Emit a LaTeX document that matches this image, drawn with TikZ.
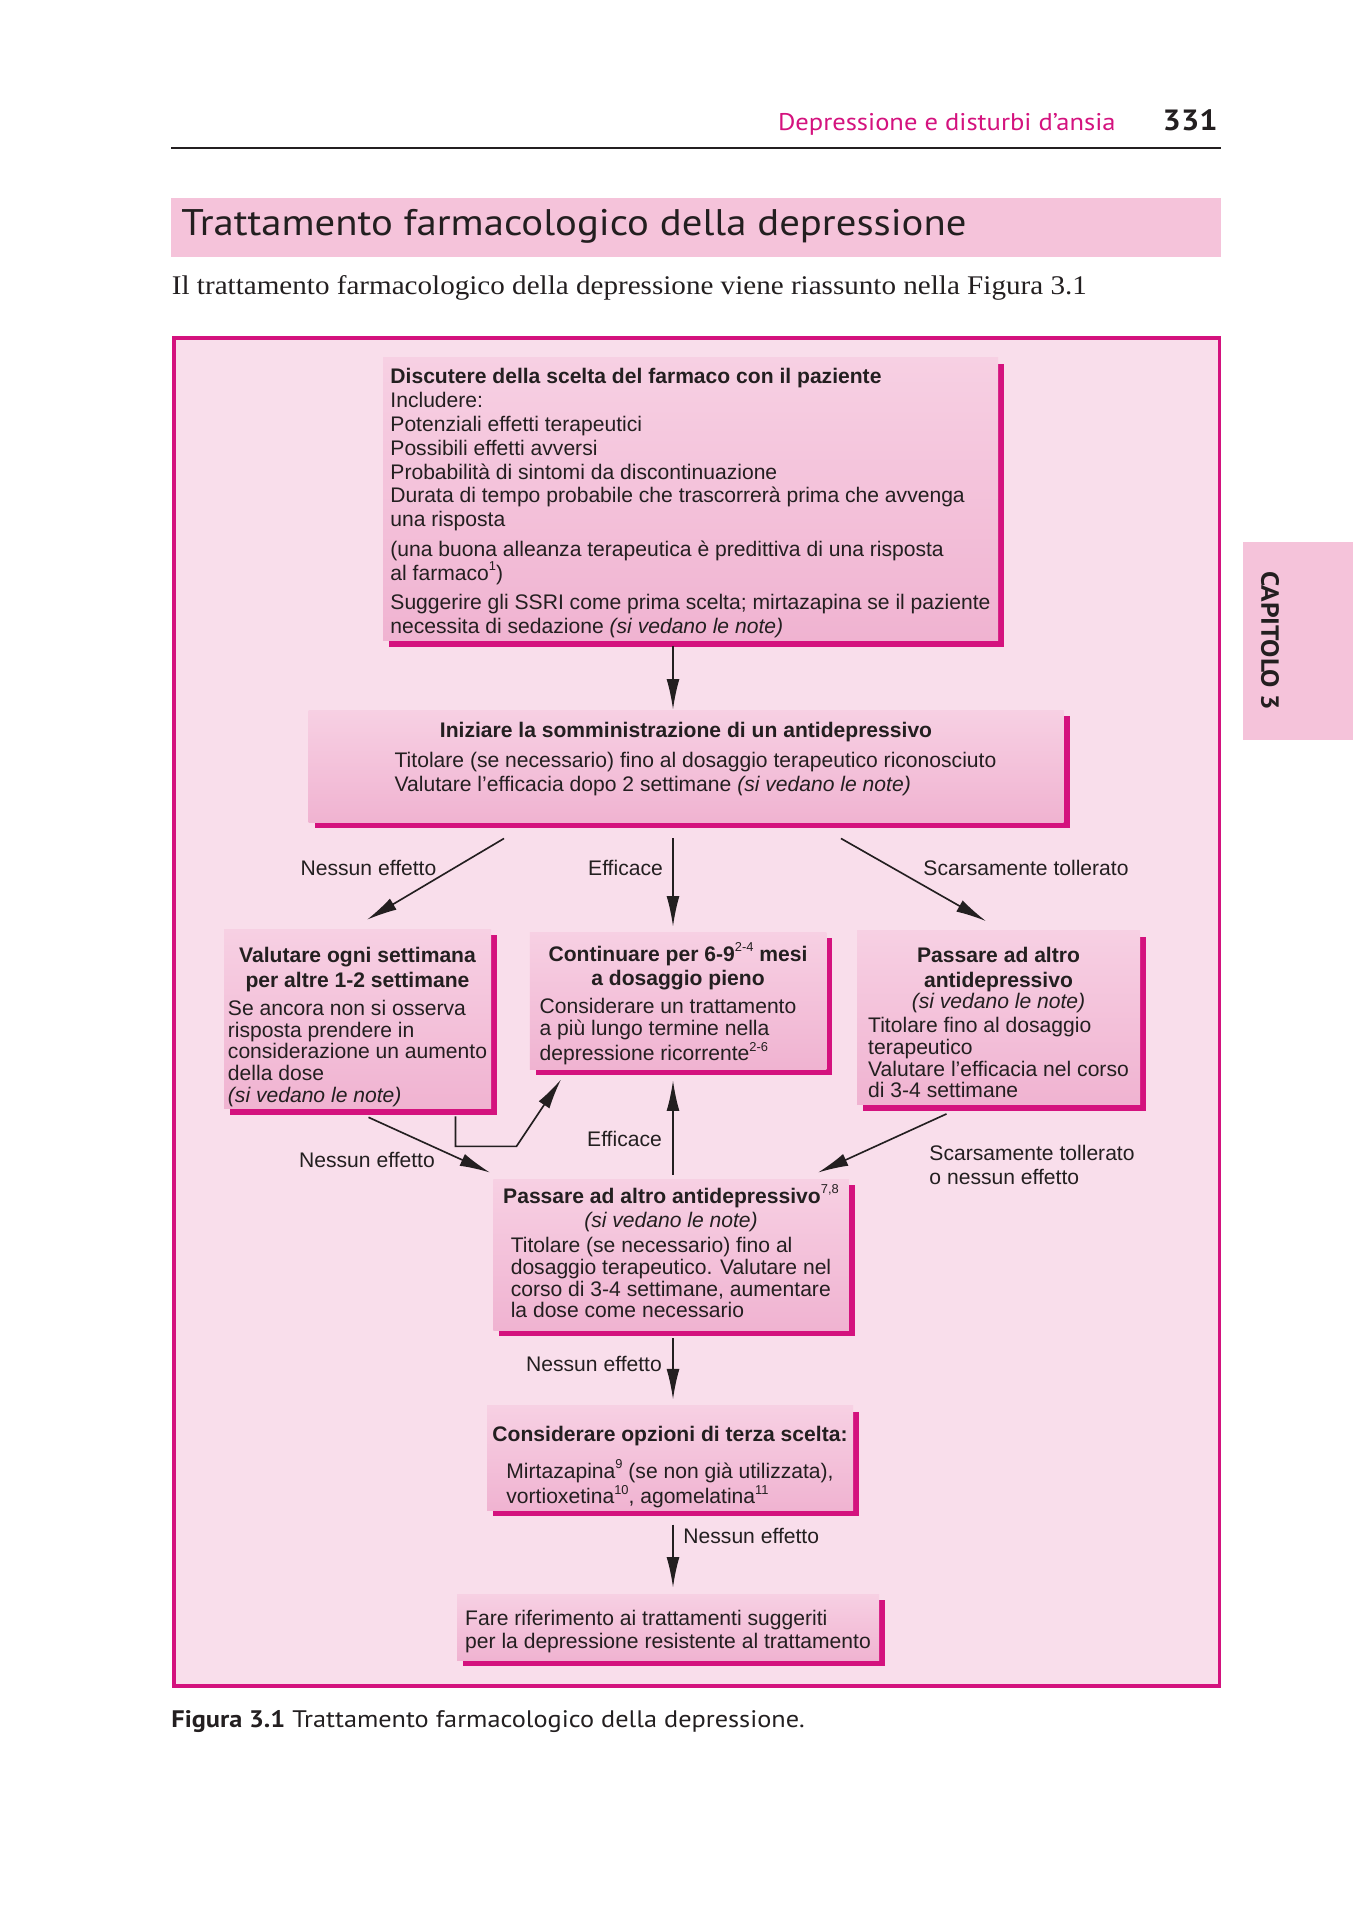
\documentclass[tikz,border=0pt]{standalone}
\usepackage{fontspec}
\setmainfont{Liberation Sans}
\newfontfamily\headfont[FakeStretch=1.1]{PT Sans}
\newfontfamily\introfont[FakeStretch=1.08]{Liberation Serif}
\usepackage{tikz}
\usetikzlibrary{arrows.meta,shadows}
\definecolor{Magenta}{HTML}{D4127E}
\definecolor{FramePink}{HTML}{F9DEEB}
\definecolor{BarPink}{HTML}{F5C3DA}
\definecolor{BoxTop}{HTML}{F7D0E3}
\definecolor{BoxBot}{HTML}{F0B3D1}
\definecolor{Ink}{HTML}{231F20}
\newlength\pxu
\setlength\pxu{0.015cm}
\newcommand\apice[1]{\raisebox{0.85ex}{\mdseries\upshape\fontsize{5.5}{6}\selectfont #1}}
\newcommand\corpo[1]{\begin{tabular}[t]{@{}l@{}}#1\end{tabular}}
\newcommand\alza[1]{\rule{0pt}{#1}}

\begin{document}
\begin{tikzpicture}[x=1\pxu, y=-1\pxu,
  every node/.style={text=Ink},
  pinkbox/.style={rectangle, top color=BoxTop, bottom color=BoxBot, align=left, inner sep=0pt,
    font=\fontsize{9}{10.2}\selectfont,
    drop shadow={shadow xshift=2.6pt, shadow yshift=-2.6pt, fill=Magenta, opacity=1}},
  smallbox/.style={pinkbox, align=center, font=\fontsize{9}{9.2}\selectfont},
  arr/.style={draw=Ink, line width=0.7pt, -{Latex[length=13pt,width=5.5pt]}},
  lab/.style={font=\fontsize{9}{10.2}\selectfont, inner sep=0pt}]
\useasboundingbox (0,0) rectangle (1353,1920);
\fill[white] (0,0) rectangle (1353,1920);

% --- page head ---
\node[anchor=base east, text=Magenta, font=\headfont\fontsize{10.3}{12}\selectfont, inner sep=0pt] (runhead) at (1116,131) {Depressione e disturbi d’ansia};
\node[anchor=base east, font=\headfont\bfseries\fontsize{12.5}{15}\selectfont, inner sep=0pt] (pagenum) at (1218,131) {331};
\draw[Ink, line width=0.6pt] (171,148) -- (1221,148);
\fill[BarPink] (171,198) rectangle (1221,257);
\node[anchor=base west, font=\headfont\fontsize{15.8}{18}\selectfont, inner sep=0pt] (title) at (181,236) {Trattamento farmacologico della depressione};
\node[anchor=base west, font=\introfont\fontsize{11.5}{14}\selectfont, inner sep=0pt] (intro) at (171.5,295) {Il trattamento farmacologico della depressione viene riassunto nella Figura 3.1};
\fill[BarPink] (1243,542) rectangle (1353,740);
\node[rotate=-90, font=\headfont\bfseries\fontsize{10.6}{12}\selectfont] (tab) at (1270,641) {CAPITOLO 3};

% --- figure frame ---
\draw[Magenta, line width=1.3pt, fill=FramePink] (174,338) rectangle (1219.5,1686);
\coordinate (spine) at (673,0);

\node[pinkbox, minimum width=615\pxu, minimum height=283\pxu] (discuss) at (690.5,499) {%
  \alza{9.8pt}\bfseries Discutere della scelta del farmaco con il paziente\\
  Includere:\\
  Potenziali effetti terapeutici\\
  Possibili effetti avversi\\
  Probabilità di sintomi da discontinuazione\\
  Durata di tempo probabile che trascorrerà prima che avvenga\\
  una risposta\\[2.3pt]
  (una buona alleanza terapeutica è predittiva di una risposta\\
  al farmaco\apice{1})\\[2.3pt]
  Suggerire gli SSRI come prima scelta; mirtazapina se il paziente\\
  necessita di sedazione \textit{(si vedano le note)}};

\node[pinkbox, align=center, minimum width=755\pxu, minimum height=112\pxu] (start) at (686,766) {%
  \bfseries Iniziare la somministrazione di un antidepressivo\\[2.8pt]
  \hspace*{19\pxu}\corpo{Titolare (se necessario) fino al dosaggio terapeutico riconosciuto\\
  Valutare l’efficacia dopo 2 settimane \textit{(si vedano le note)}\rule[-8pt]{0pt}{0pt}}};

\node[smallbox, minimum width=267\pxu, minimum height=174\pxu] (weekly) at (357.5,1019) {%
  \alza{14.4pt}\bfseries Valutare ogni settimana\\[1.2pt]
  \bfseries per altre 1-2 settimane\\[2.8pt]
  \corpo{Se ancora non si osserva\\
  risposta prendere in\\
  considerazione un aumento\\
  della dose\\
  \itshape (si vedano le note)}};

\node[smallbox, minimum width=296.5\pxu, minimum height=137\pxu] (continue) at (678,1000.5) {%
  \alza{11.8pt}\bfseries Continuare per 6-9\apice{2-4} mesi\\[1.2pt]
  \bfseries a dosaggio pieno\\[2.8pt]
  \corpo{Considerare un trattamento\hspace*{20\pxu}\\
  a più lungo termine nella\\
  depressione ricorrente\apice{2-6}}};

\node[smallbox, minimum width=283\pxu, minimum height=171\pxu] (switchA) at (998.5,1017.5) {%
  \alza{13.8pt}\bfseries Passare ad altro\\[1.2pt]
  \bfseries antidepressivo\\
  \itshape (si vedano le note)\\[1pt]
  \corpo{Titolare fino al dosaggio\\
  terapeutico\\
  Valutare l’efficacia nel corso\\
  di 3-4 settimane}};

\node[smallbox, minimum width=355.5\pxu, minimum height=151\pxu] (switchB) at (671,1254.5) {%
  \bfseries Passare ad altro antidepressivo\apice{7,8}\\[1.2pt]
  \itshape (si vedano le note)\\[1.5pt]
  \corpo{Titolare (se necessario) fino al\\
  dosaggio terapeutico. Valutare nel\\
  corso di 3-4 settimane, aumentare\\
  la dose come necessario}};

\node[smallbox, font=\fontsize{9}{9.4}\selectfont, minimum width=366\pxu, minimum height=92\pxu] (third) at (670,1458) {%
  \alza{15pt}\bfseries Considerare opzioni di terza scelta:\\[5.2pt]
  \corpo{Mirtazapina\apice{9} (se non già utilizzata),\\
  vortioxetina\apice{10}, agomelatina\apice{11}}};

\node[pinkbox, font=\fontsize{9}{10}\selectfont, minimum width=422\pxu, minimum height=66\pxu] (resist) at (668,1627) {%
  \alza{10.2pt}Fare riferimento ai trattamenti suggeriti\\
  per la depressione resistente al trattamento};

% --- connectors ---
\draw[arr] ([yshift=-5\pxu]discuss.south -| spine) -- (start.north -| spine);
\draw[arr] ([yshift=-16\pxu]start.south -| 504,0) -- ([yshift=9\pxu]weekly.north -| 367,0);
\draw[arr] ([yshift=-16\pxu]start.south -| spine) -- ([yshift=5\pxu]continue.north -| spine);
\draw[arr] ([yshift=-16\pxu]start.south -| 841,0) -- ([yshift=9\pxu]switchA.north -| 986,0);
\draw[arr] ([yshift=-8\pxu]weekly.south -| 368.5,0) -- ([yshift=6\pxu]switchB.north -| 490,0);
\draw[arr] ([yshift=-7\pxu]weekly.south -| 455.5,0) -- ++(0,30) -- ++(61,0) -- ([yshift=-10\pxu]continue.south -| 561,0);
\draw[arr] ([yshift=4\pxu]switchB.north -| spine) -- ([yshift=-11\pxu]continue.south -| spine);
\draw[arr] ([yshift=-9\pxu]switchA.south -| 946.5,0) -- ([yshift=6\pxu]switchB.north -| 818,0);
\draw[arr] ([yshift=-8\pxu]switchB.south -| spine) -- ([yshift=6\pxu]third.north -| spine);
\draw[arr] ([yshift=-14\pxu]third.south -| spine) -- ([yshift=6\pxu]resist.north -| spine);

\node[lab] (noeffA) at (368.5,868) {Nessun effetto};
\node[lab] (okA) at (625.5,868) {Efficace};
\node[lab] (poorA) at (1026,868) {Scarsamente tollerato};
\node[lab] (noeffB) at (367,1159.5) {Nessun effetto};
\node[lab] (okB) at (624.5,1138.7) {Efficace};
\node[lab, align=left, anchor=west] (poorB) at (929,1165) {Scarsamente tollerato\\o nessun effetto};
\node[lab] (noeffC) at (594,1364) {Nessun effetto};
\node[lab, anchor=west] (noeffD) at (683,1535.5) {Nessun effetto};

\node[anchor=base west, font=\headfont\fontsize{10.2}{13}\selectfont, inner sep=0pt] (caption) at (171,1727) {\bfseries Figura 3.1\mdseries{} Trattamento farmacologico della depressione.};
\end{tikzpicture}
\end{document}
